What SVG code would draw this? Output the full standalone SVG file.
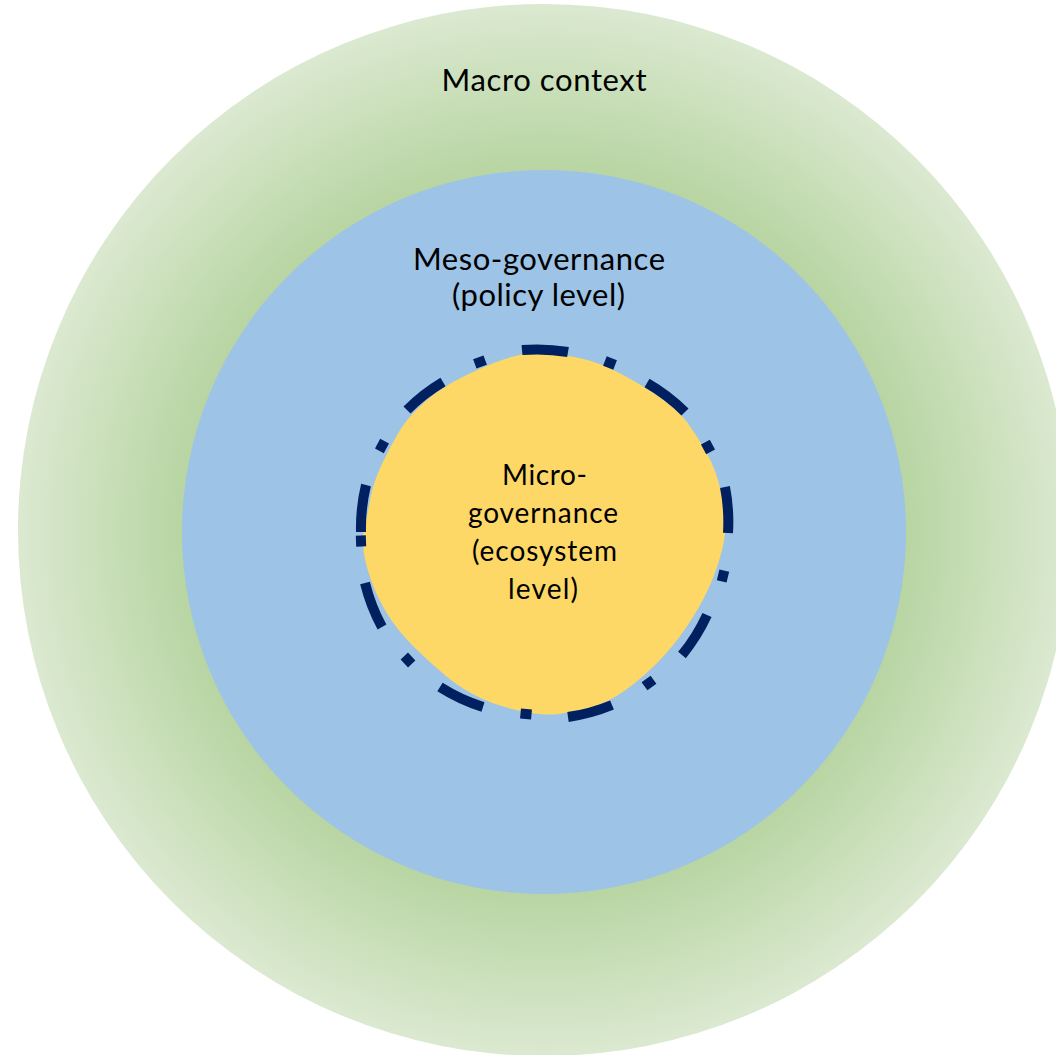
<svg xmlns="http://www.w3.org/2000/svg" width="1056" height="1055" viewBox="0 0 1056 1055">
  <defs>
    <radialGradient id="gMacro" cx="544" cy="530" r="526" gradientUnits="userSpaceOnUse">
      <stop offset="0" stop-color="#a9d18e"/>
      <stop offset="0.69" stop-color="#b8d5a3"/>
      <stop offset="1" stop-color="#dbe9d0"/>
    </radialGradient>
  </defs>
  <style>
    .lbl { font-family: Lato, "Liberation Sans", sans-serif; fill: #000000; text-anchor: middle; }
    .ring { fill: none; stroke: #002060; stroke-width: 10; stroke-linecap: butt; }
  </style>
  <rect x="0" y="0" width="1056" height="1055" fill="#ffffff"/>
  <g id="macro">
    <circle cx="544" cy="530" r="526" fill="url(#gMacro)"/>
    <text class="lbl" x="544" y="91" font-size="31" textLength="205">Macro context</text>
  </g>
  <g id="meso">
    <circle cx="544" cy="532" r="362" fill="#9dc3e6"/>
    <text class="lbl" x="539" y="270" font-size="31" textLength="252">Meso-governance</text>
    <text class="lbl" x="538.5" y="306" font-size="31" textLength="173">(policy level)</text>
  </g>
  <g id="micro">
    <path fill="#fdd866" d="M 553.5 353.5 Q 567 355 583.5 359 Q 600 363 616.5 371.5 Q 633 380 646.5 388.5 Q 660 397 670 405 Q 680 413 686.5 421.5 Q 693 430 703 446.5 Q 713 463 718 480 Q 723 497 725 513.5 Q 727 530 722 550 Q 717 570 708.5 588.5 Q 700 607 686.5 627 Q 673 647 656.5 663.5 Q 640 680 623.5 691.5 Q 607 703 590 707.5 Q 573 712 559 714 Q 545 716 522.5 711.5 Q 500 707 481.5 698.5 Q 463 690 446.5 676.5 Q 430 663 413.5 646.5 Q 397 630 387 613.5 Q 377 597 371 580 Q 365 563 363.5 550 Q 362 537 364.5 527 Q 367 517 370 500 Q 373 483 381.5 465 Q 390 447 398.5 432.5 Q 407 418 423.5 403 Q 440 388 463.5 376.5 Q 487 365 503.5 359.5 Q 520 354 530 353 Q 540 352 553.5 353.5 Z"/>
    <path class="ring" d="M 522 350 A 184 184 0 0 1 568 352 M 604.9 361 L 615.1 365 M 647 383 A 184 184 0 0 1 685 412 M 705.4 442.1 L 710.6 451.9 M 725 487 A 184 184 0 0 1 728 533 M 724.3 570.6 L 721.7 581.4 M 707 615 A 184 184 0 0 1 682 655 M 653.5 679.8 L 644.5 686.2 M 612 705 A 184 184 0 0 1 568 717 M 531.5 714.5 L 520.5 713.5 M 483 707 A 184 184 0 0 1 440 687 M 411.7 664 L 404.3 656 M 382 627 A 184 184 0 0 1 365 583 M 361.2 546.5 L 360.8 535.5 M 361 532 A 184 184 0 0 1 366 485 M 379.4 450.8 L 384.6 441.2 M 407 410 A 184 184 0 0 1 443 382 M 474.8 363.9 L 485.2 360.1"/>
    <text class="lbl" x="544.5" y="485" font-size="28" textLength="85">Micro-</text>
    <text class="lbl" x="543" y="523" font-size="28" textLength="150">governance</text>
    <text class="lbl" x="544.5" y="561" font-size="28" textLength="145">(ecosystem</text>
    <text class="lbl" x="543" y="599" font-size="28" textLength="70">level)</text>
  </g>
</svg>
